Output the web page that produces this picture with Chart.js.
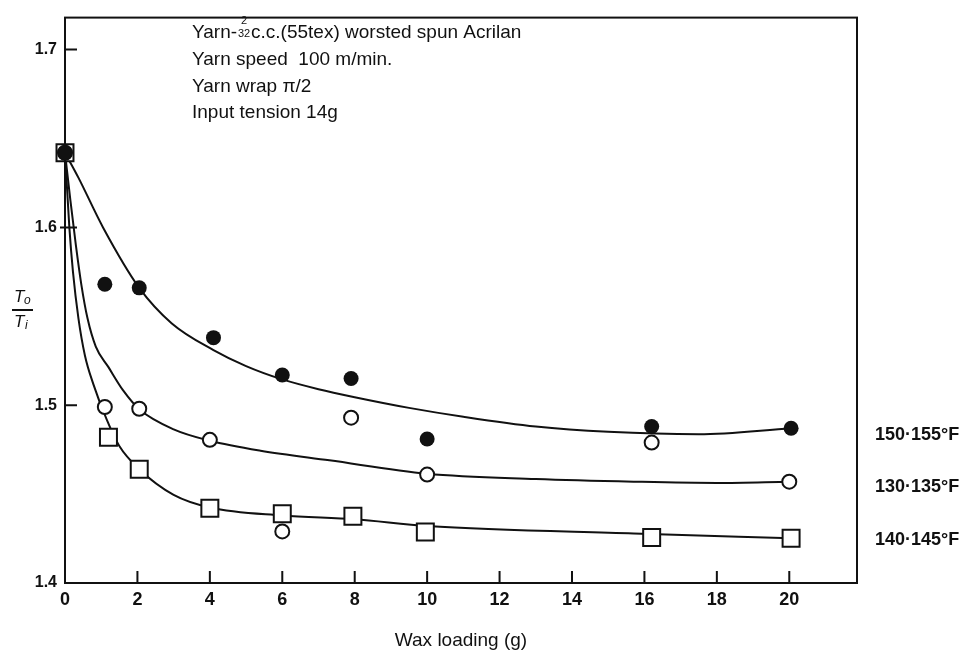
<!DOCTYPE html>
<html lang="en">
<head>
<meta charset="UTF-8">
<title>Tension ratio vs wax loading</title>
<script src="https://cdn.jsdelivr.net/npm/chart.js"></script>
<style>
  body { margin: 0; background: #fff; }
  #wrap { width: 978px; height: 661px; position: relative; }
</style>
</head>
<body>
<div id="wrap"><canvas id="waxChart"></canvas></div>
<script>
// axis ticks
const xTicks = [0, 2, 4, 6, 8, 10, 12, 14, 16, 18, 20];
const yTicks = [1.4, 1.5, 1.6, 1.7];

// measured points, wax loading (g) vs To/Ti
const wax150 = [0, 1.1, 2.05, 4.1, 6.0, 7.9, 10.0, 16.2, 20.05];
const ratio150 = [1.642, 1.568, 1.566, 1.538, 1.517, 1.515, 1.481, 1.488, 1.487];
const wax130 = [0, 1.1, 2.05, 4.0, 6.0, 7.9, 10.0, 16.2, 20.0];
const ratio130 = [1.642, 1.499, 1.498, 1.4805, 1.429, 1.493, 1.461, 1.479, 1.457];
const wax140 = [0, 1.2, 2.05, 4.0, 6.0, 7.95, 9.95, 16.2, 20.05];
const ratio140 = [1.642, 1.482, 1.464, 1.442, 1.439, 1.4375, 1.4287, 1.4256, 1.4252];

// hand-fitted curves through each set
const fitX150 = [0, 0.37, 1.05, 2.05, 2.95, 4.1, 5.0, 6.0, 7.0, 8.0, 9.5, 11.0, 13.0, 15.0, 17.5, 20.05];
const fitY150 = [1.642, 1.628, 1.600, 1.566, 1.546, 1.531, 1.522, 1.5145, 1.509, 1.5045, 1.4985, 1.4935, 1.488, 1.485, 1.4836, 1.487];
const fitX130 = [0, 0.15, 0.3, 0.45, 0.62, 0.85, 1.2, 1.6, 2.07, 3.0, 4.0, 5.4, 7.3, 10.0, 13.0, 15.7, 18.0, 20.0];
const fitY130 = [1.642, 1.615, 1.590, 1.568, 1.549, 1.533, 1.5214, 1.5085, 1.4974, 1.4864, 1.480, 1.4744, 1.469, 1.4615, 1.4585, 1.457, 1.4563, 1.457];
const fitX140 = [0, 0.12, 0.22, 0.37, 0.55, 0.78, 1.15, 1.5, 2.05, 3.0, 4.0, 6.0, 8.0, 10.0, 15.7, 20.05];
const fitY140 = [1.642, 1.6, 1.575, 1.549, 1.528, 1.512, 1.492, 1.477, 1.464, 1.4496, 1.4425, 1.438, 1.4358, 1.432, 1.4278, 1.4252];

const seriesLabels = ['150\u00b7155\u00b0F', '130\u00b7135\u00b0F', '140\u00b7145\u00b0F'];
const noteLines = ['Yarn speed  100 m/min.', 'Yarn wrap \u03c0/2', 'Input tension 14g'];

const FONT = "'Liberation Sans', Arial, sans-serif";
const INK = '#111';

const pts = (xs, ys) => xs.map((x, i) => ({ x: x, y: ys[i] }));

function curve(xs, ys) {
  return {
    type: 'scatter', data: pts(xs, ys), showLine: true,
    borderColor: INK, borderWidth: 2, pointRadius: 0,
    cubicInterpolationMode: 'monotone', order: 10
  };
}

// frame, inward ticks and all free text
const decor = {
  id: 'decor',
  afterDraw(chart) {
    const ctx = chart.ctx;
    const a = chart.chartArea;
    const xs = chart.scales.x, ys = chart.scales.y;
    ctx.save();
    ctx.strokeStyle = INK;
    ctx.lineWidth = 2;
    ctx.strokeRect(a.left, a.top, a.right - a.left, a.bottom - a.top);

    ctx.beginPath();
    xTicks.forEach(v => {
      if (v === 0) return;
      const px = xs.getPixelForValue(v);
      ctx.moveTo(px, a.bottom); ctx.lineTo(px, a.bottom - 12);
    });
    yTicks.forEach(v => {
      if (v === 1.4) return;
      const py = ys.getPixelForValue(v);
      ctx.moveTo(v === 1.6 ? a.left - 5 : a.left, py); ctx.lineTo(a.left + 12, py);
    });
    ctx.stroke();

    ctx.fillStyle = INK;
    ctx.textBaseline = 'alphabetic';

    // notes, first line carries the 2/32 count fraction
    ctx.font = '19px ' + FONT;
    const x0 = 192;
    ctx.fillText('Yarn-', x0, 38);
    const fx = x0 + ctx.measureText('Yarn-').width + 1;
    ctx.font = '11px ' + FONT;
    ctx.textAlign = 'center';
    ctx.fillText('2', fx + 6, 24);
    ctx.fillText('32', fx + 6, 37);
    ctx.textAlign = 'left';
    ctx.font = '19px ' + FONT;
    ctx.fillText('c.c.(55tex) worsted spun Acrilan', fx + 13, 38);
    noteLines.forEach((t, i) => ctx.fillText(t, x0, 65 + i * 26.5));

    // x axis title
    ctx.textAlign = 'center';
    ctx.font = '19px ' + FONT;
    ctx.fillText('Wax loading (g)', (a.left + a.right) / 2, 646);

    // y axis title: To over Ti
    ctx.font = 'italic 17px ' + FONT;
    ctx.textAlign = 'left';
    ctx.fillText('T', 14, 302);
    ctx.fillText('T', 14, 327);
    ctx.font = 'italic 12px ' + FONT;
    ctx.fillText('o', 24, 304);
    ctx.fillText('i', 25, 329);
    ctx.fillRect(12, 309, 21, 2);

    // series labels at the right
    ctx.font = 'bold 18px ' + FONT;
    ctx.textBaseline = 'middle';
    const labelY = [435, 487, 540];
    seriesLabels.forEach((t, i) => ctx.fillText(t, a.right + 18, labelY[i]));
    ctx.restore();
  }
};

new Chart(document.getElementById('waxChart'), {
  type: 'scatter',
  data: {
    datasets: [
      curve(fitX150, fitY150),
      curve(fitX130, fitY130),
      curve(fitX140, fitY140),
      {
        label: seriesLabels[2], data: pts(wax140, ratio140), clip: false,
        pointStyle: 'rect', pointRadius: 12, pointHoverRadius: 12,
        backgroundColor: '#fff', borderColor: INK, borderWidth: 2, order: 3
      },
      {
        label: seriesLabels[1], data: pts(wax130, ratio130), clip: false,
        pointStyle: 'circle', pointRadius: 7, pointHoverRadius: 7,
        backgroundColor: '#fff', borderColor: INK, borderWidth: 2, order: 2
      },
      {
        label: seriesLabels[0], data: pts(wax150, ratio150), clip: false,
        pointStyle: 'circle', pointRadius: 7.5, pointHoverRadius: 7.5,
        backgroundColor: INK, borderColor: INK, borderWidth: 0, order: 1
      }
    ]
  },
  options: {
    responsive: true,
    maintainAspectRatio: false,
    animation: false,
    layout: { padding: { top: 7, right: 121, left: 0, bottom: 0 } },
    plugins: { legend: { display: false }, tooltip: { enabled: false } },
    scales: {
      x: {
        type: 'linear', min: 0, max: 21.87,
        afterBuildTicks: s => { s.ticks = xTicks.map(v => ({ value: v })); },
        afterFit: s => { s.height = 78; },
        grid: { display: false, drawTicks: false },
        border: { display: false },
        ticks: { padding: 6, color: INK, font: { family: FONT, size: 18, weight: 'bold' }, maxRotation: 0 }
      },
      y: {
        type: 'linear', min: 1.4, max: 1.718,
        afterBuildTicks: s => { s.ticks = yTicks.map(v => ({ value: v })); },
        afterFit: s => { s.width = 65; },
        grid: { display: false, drawTicks: false },
        border: { display: false },
        ticks: {
          padding: 8, color: INK, font: { family: FONT, size: 16, weight: 'bold' },
          callback: v => v.toFixed(1)
        }
      }
    }
  },
  plugins: [decor]
});
</script>
</body>
</html>
